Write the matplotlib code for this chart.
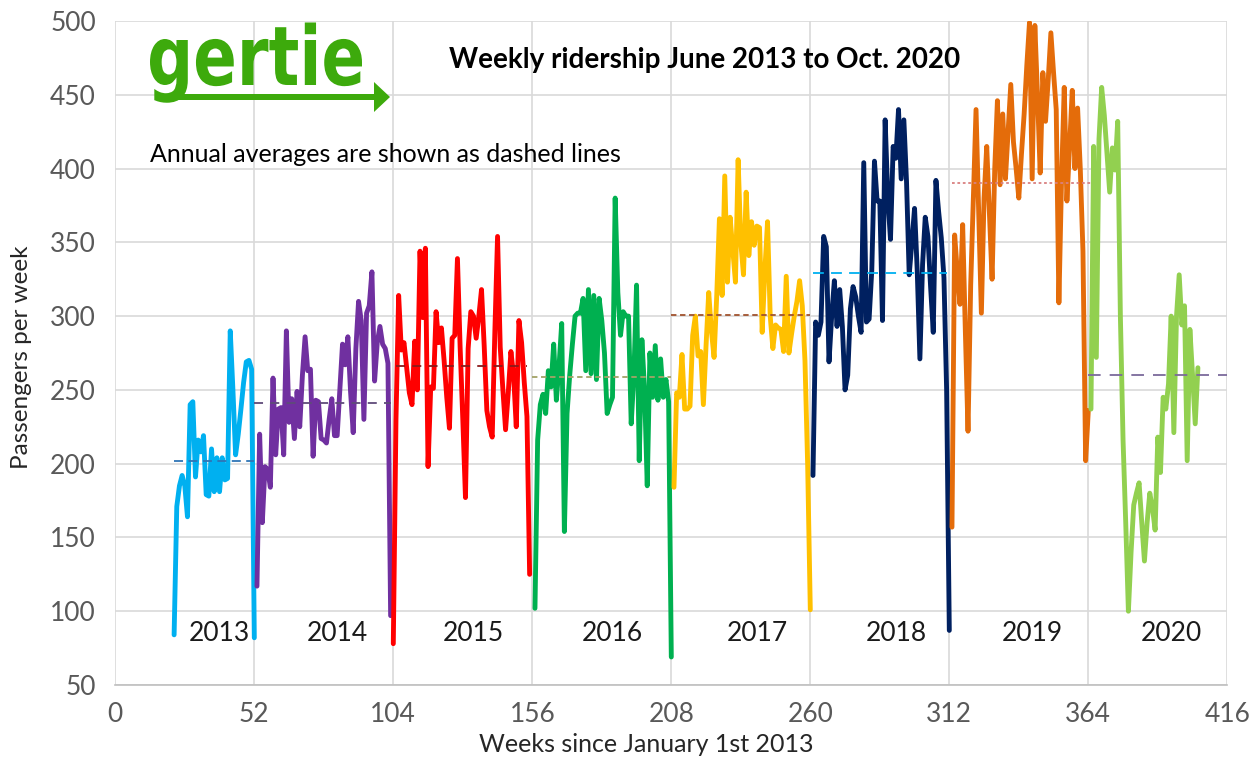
import numpy as np
import matplotlib
matplotlib.use('Agg')
import matplotlib.pyplot as plt
from matplotlib.textpath import TextPath
from matplotlib.patches import PathPatch, FancyArrow
from matplotlib.font_manager import FontProperties
from matplotlib.transforms import Affine2D, IdentityTransform


years = [2013, 2014, 2015, 2016, 2017, 2018, 2019, 2020]
start_weeks = [22, 53, 104, 157, 209, 261, 313, 365]

riders_2013 = [84, 171, 185, 192, 185, 164, 240, 242, 191, 216, 208, 219, 179, 178, 210, 181,
               204, 181, 204, 189, 190, 290, 250, 206, 220, 237, 255, 269, 270, 264, 82]
riders_2014 = [117, 220, 160, 198, 196, 184, 258, 206, 237, 238, 206, 290, 228, 244, 217, 249,
               225, 260, 286, 263, 264, 205, 243, 242, 217, 216, 214, 230, 244, 219, 219, 250,
               281, 267, 286, 249, 221, 278, 310, 297, 230, 302, 307, 330, 256, 282, 293, 281,
               278, 268, 97]
riders_2015 = [78, 230, 314, 277, 282, 265, 248, 240, 283, 250, 344, 299, 346, 198, 252, 251,
               303, 282, 292, 270, 245, 224, 285, 287, 339, 279, 230, 177, 278, 303, 300, 285,
               300, 318, 280, 236, 225, 218, 290, 354, 279, 250, 223, 248, 276, 260, 225, 297,
               282, 255, 232, 125]
riders_2016 = [102, 216, 240, 247, 234, 263, 252, 281, 243, 266, 295, 154, 234, 260, 281, 300,
               302, 302, 312, 263, 318, 261, 314, 257, 312, 297, 275, 234, 240, 245, 380, 316,
               287, 303, 300, 300, 227, 260, 321, 202, 284, 250, 185, 275, 245, 280, 243, 271,
               245, 257, 242, 69]
riders_2017 = [184, 248, 245, 274, 237, 237, 239, 287, 300, 273, 276, 240, 280, 316, 290, 272,
               314, 366, 314, 395, 323, 367, 345, 323, 406, 350, 328, 384, 341, 364, 348, 361,
               360, 289, 331, 364, 300, 278, 294, 292, 291, 276, 327, 275, 288, 300, 310, 324,
               307, 270, 200, 101]
riders_2018 = [192, 296, 287, 296, 354, 347, 269, 300, 324, 293, 318, 293, 250, 260, 305, 320,
               313, 300, 289, 404, 296, 298, 331, 405, 378, 378, 297, 433, 380, 352, 415, 407,
               440, 393, 433, 391, 328, 350, 373, 331, 271, 335, 367, 354, 320, 289, 392, 371,
               353, 326, 250, 87]
riders_2019 = [157, 355, 330, 308, 362, 290, 222, 321, 380, 440, 370, 302, 380, 415, 370, 325,
               400, 446, 389, 437, 393, 425, 457, 418, 400, 380, 410, 437, 470, 499, 393, 497,
               450, 397, 465, 432, 460, 492, 465, 440, 309, 393, 455, 378, 415, 453, 400, 441,
               400, 344, 202, 236]
riders_2020 = [237, 415, 272, 420, 455, 436, 410, 384, 414, 399, 432, 300, 216, 160, 100, 140,
               172, 180, 187, 160, 134, 160, 180, 170, 155, 218, 194, 245, 237, 254, 300, 221,
               300, 328, 294, 307, 202, 291, 260, 227, 265]

annual_avg = [202, 241, 266, 259, 301, 329, 390, 260]
avg_from = [22, 52, 105, 156, 208, 261, 313, 364]
avg_to = [52, 103, 154, 208, 260, 311, 365, 416]

riders = [riders_2013, riders_2014, riders_2015, riders_2016,
          riders_2017, riders_2018, riders_2019, riders_2020]

line_colors = ['#00B0F0', '#7030A0', '#FF0000', '#00B050',
               '#FFC000', '#002060', '#E46C0A', '#92D050']
avg_colors = ['#2E75B6', '#5F4B7A', '#8B1A1A', '#A3A367',
              '#A0522D', '#00B0F0', '#D98080', '#7B6A9B']
avg_dashes = [(5, 3), (5, 4), (5, 4), (3, 2), (3, 2), (6, 4), (1.5, 1.5), (7, 5)]

x_ticks = list(range(0, 417, 52))
y_ticks = list(range(50, 501, 50))

plt.rcParams['font.family'] = ['Lato', 'DejaVu Sans']

fig = plt.figure(figsize=(12.56, 7.59), dpi=100)
ax = fig.add_axes([115.3 / 1256, 1 - 685 / 759, 1112 / 1256, 664 / 759])

for yr, vals, start, col in zip(years, riders, start_weeks, line_colors):
    weeks = np.arange(start, start + len(vals))
    ax.plot(weeks, vals, color=col, lw=3.5, solid_joinstyle='round', solid_capstyle='round', zorder=3)

for avg, a, b, col, ds in zip(annual_avg, avg_from, avg_to, avg_colors, avg_dashes):
    ax.plot([a, b], [avg, avg], color=col, lw=1.3, dashes=ds, zorder=4)

# year labels under each season
year_label_x = [39, 83, 134, 186, 240, 292, 343, 395]
for yr, xw in zip(years, year_label_x):
    ax.text(xw, 85, str(yr), ha='center', va='center', fontsize=19, color='#1a1a1a', zorder=5)

ax.set_xlim(0, 416)
ax.set_ylim(50, 500)
ax.set_xticks(x_ticks)
ax.set_yticks(y_ticks)
ax.grid(True, color='#D9D9D9', lw=1.2, zorder=0)
ax.set_axisbelow(True)
for s in ['top', 'right', 'left']:
    ax.spines[s].set_visible(False)
ax.spines['bottom'].set_color('#BFBFBF')
ax.spines['bottom'].set_linewidth(1.2)
ax.tick_params(length=0, labelsize=19, colors='#595959')
ax.tick_params(axis='y', pad=14)
ax.tick_params(axis='x', pad=12)

fig.text(22 / 1256, 1 - 357 / 759, 'Passengers per week', rotation=90, ha='center', va='center',
         fontsize=17.5, color='#262626')
fig.text(646 / 1256, 1 - 745 / 759, 'Weeks since January 1st 2013', ha='center', va='center',
         fontsize=18, color='#262626')
fig.text(705 / 1256, 1 - 60 / 759, 'Weekly ridership June 2013 to Oct. 2020', ha='center', va='center',
         fontsize=20, fontweight='bold', color='black')
fig.text(150 / 1256, 1 - 155 / 759, 'Annual averages are shown as dashed lines', ha='left', va='center',
         fontsize=18, color='black')

# gertie logo
green = '#3DAA0C'
fp = FontProperties(family='DejaVu Sans', weight='bold')
tp = TextPath((0, 0), 'gertie', size=100, prop=fp)
xh = TextPath((0, 0), 'x', size=100, prop=fp).get_extents().height
ext = tp.get_extents()
sx = (362 - 150) / ext.width
sy = 45 / xh
tr = Affine2D().translate(-ext.x0, 0).scale(sx, sy).translate(150, 759 - 85)
logo = PathPatch(tr.transform_path(tp), color=green, lw=0, transform=IdentityTransform())
fig.add_artist(logo)
arrow = FancyArrow(165, 759 - 97, 225, 0, width=6, head_width=30, head_length=16,
                   length_includes_head=True, color=green, lw=0, transform=IdentityTransform())
fig.add_artist(arrow)

fig.savefig('out.png', dpi=100)
